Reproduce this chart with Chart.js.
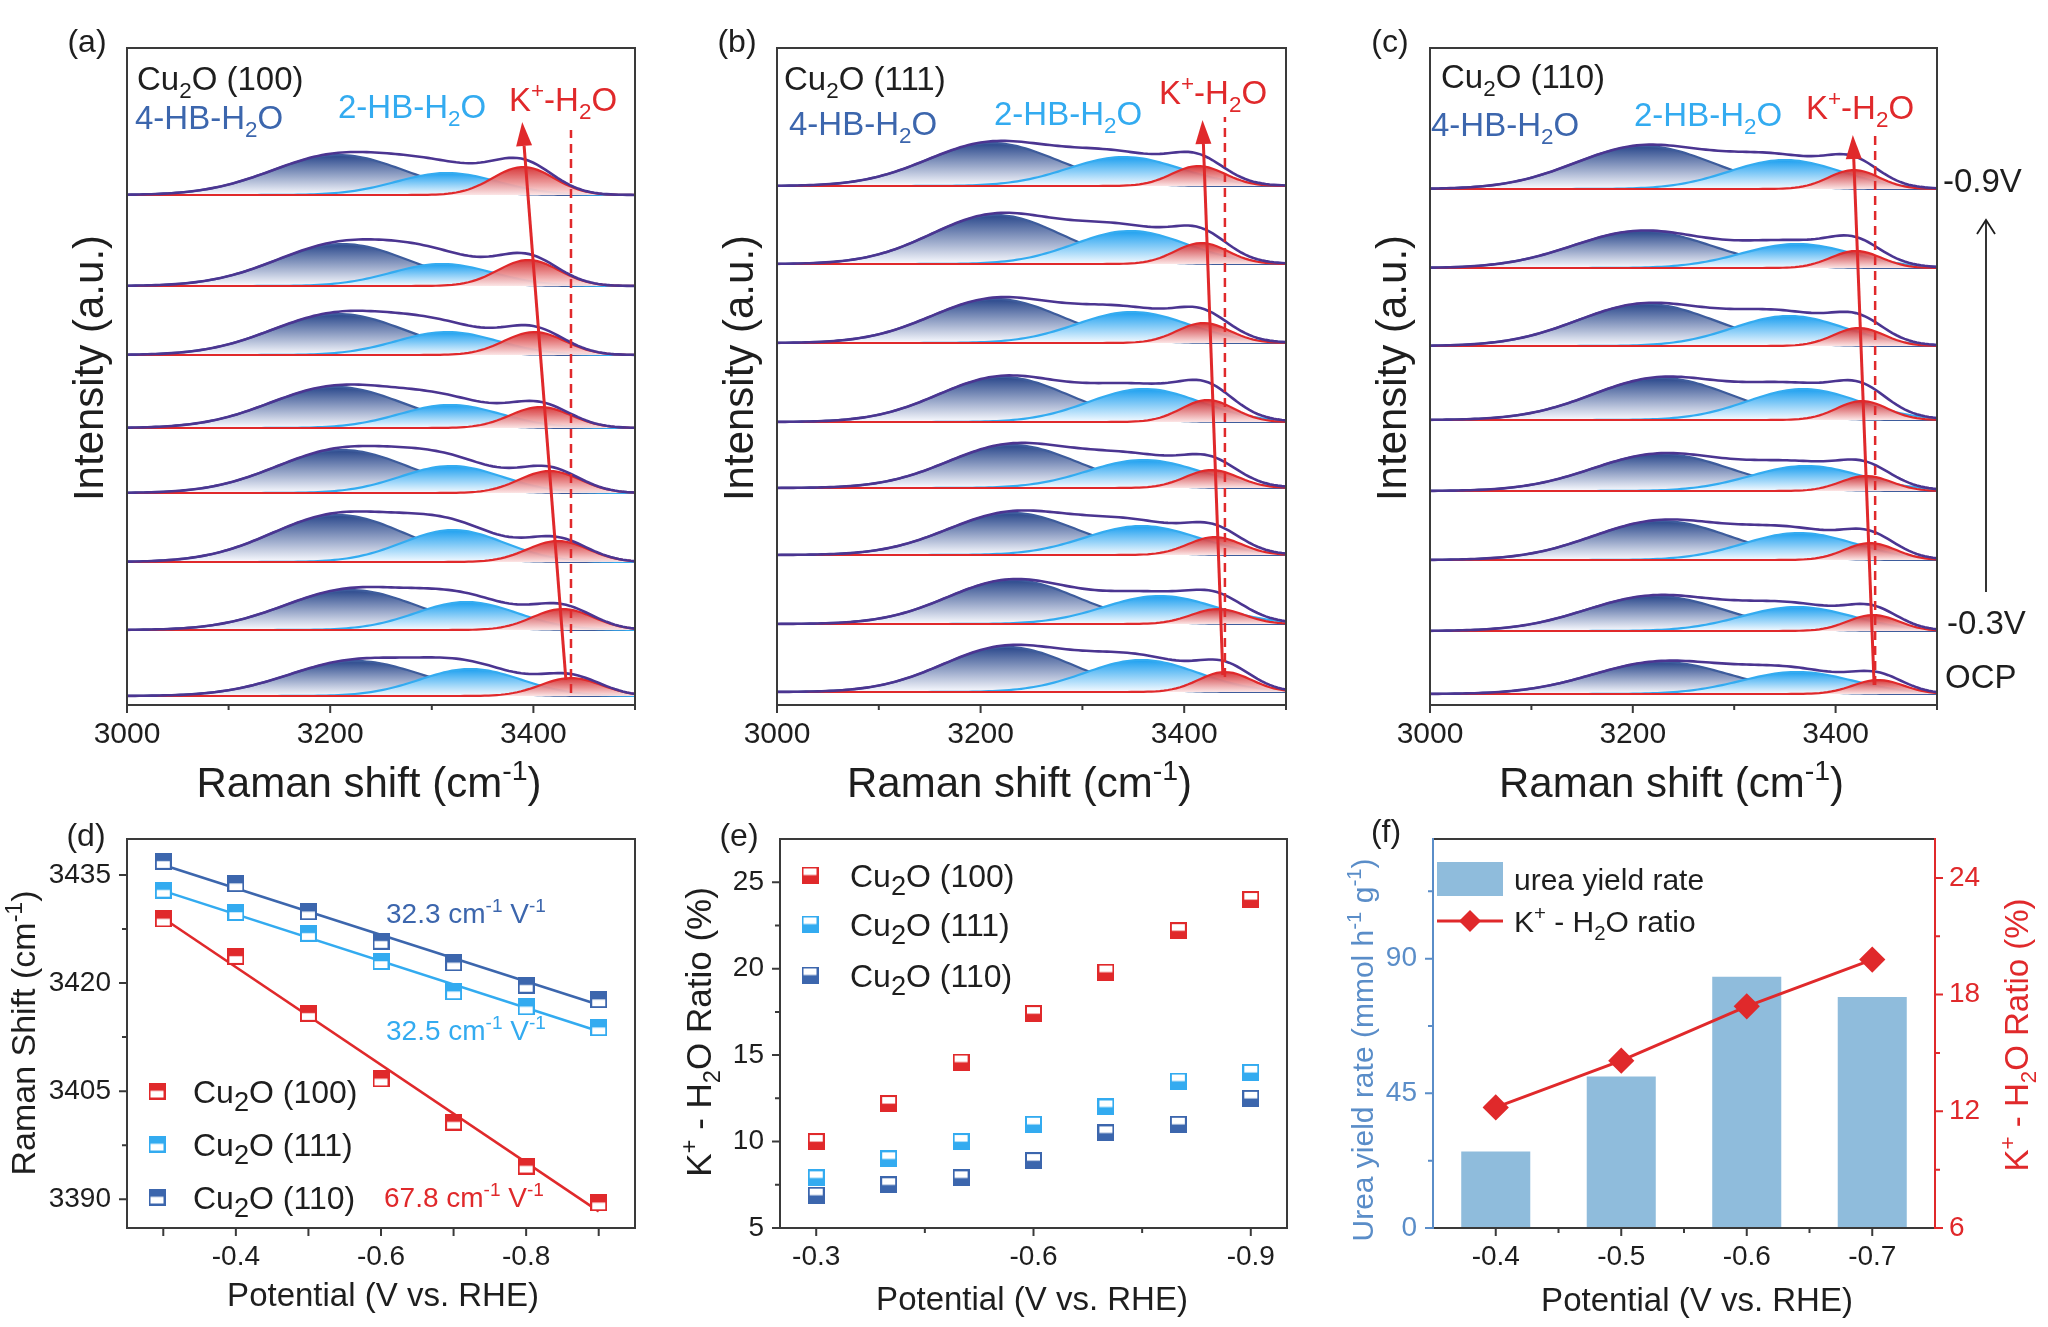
<!DOCTYPE html>
<html>
<head>
<meta charset="utf-8">
<script src="https://cdn.jsdelivr.net/npm/chart.js@4.4.1/dist/chart.umd.min.js"></script>
<style>
  html, body { margin: 0; padding: 0; background: #fff; }
  #wrap { position: relative; width: 2048px; height: 1327px; overflow: hidden; background: #fff; }
  #wrap canvas { position: absolute; left: 0; top: 0; }
</style>
</head>
<body>
<div id="wrap">
  <canvas id="ca" width="2048" height="1327"></canvas>
  <canvas id="cb" width="2048" height="1327"></canvas>
  <canvas id="cc" width="2048" height="1327"></canvas>
  <canvas id="cd" width="2048" height="1327"></canvas>
  <canvas id="ce" width="2048" height="1327"></canvas>
  <canvas id="cf" width="2048" height="1327"></canvas>
</div>
<script>
// ---------- data: (a)-(c) fitted Raman components, top spectrum (-0.9 V) first, OCP last ----------
const ramanTicks = [3000, 3200, 3400];
const ramanMinor = [3100, 3300, 3500];

const a_offset = [510, 419, 350, 277, 212, 143, 75, 9];
const a_hb4Pos = [3208, 3212, 3208, 3206, 3212, 3208, 3220, 3225];
const a_hb4Amp = [40, 42, 41, 41, 43, 47, 40, 35];
const a_hb2Pos = [3315, 3310, 3315, 3318, 3319, 3321, 3334, 3338];
const a_hb2Amp = [22, 22, 23, 23, 27, 32, 28, 27];
const a_kPos = [3390, 3395, 3401, 3407, 3416, 3424, 3429, 3437];
const a_kAmp = [28, 26, 23, 21, 22, 21, 21, 18];
const a_width = [66, 50, 30];
const a_arrow = [3432, 25, 3389, 583];
const a_dash = [3437, 12, 575];

const b_offset = [519, 441, 362, 283, 217, 150, 81, 13];
const b_hb4Pos = [3211, 3215, 3215, 3222, 3231, 3231, 3231, 3226];
const b_hb4Amp = [43, 49, 44, 45, 43, 42, 44, 45];
const b_hb2Pos = [3341, 3347, 3349, 3361, 3360, 3358, 3376, 3358];
const b_hb2Amp = [29, 33, 31, 33, 28, 29, 28, 32];
const b_kPos = [3414, 3417, 3419, 3423, 3427, 3430, 3433, 3440];
const b_kAmp = [20, 21, 20, 22, 18, 18, 15, 20];
const b_width = [64, 55, 26];
const b_arrow = [3438, 30, 3418, 585];
const b_dash = [3440, 28, 588];

const c_offset = [516, 437, 359, 285, 214, 145, 74, 11];
const c_hb4Pos = [3211, 3209, 3213, 3228, 3228, 3228, 3222, 3228];
const c_hb4Amp = [43, 37, 42, 42, 37, 39, 35, 32];
const c_hb2Pos = [3350, 3362, 3354, 3368, 3371, 3364, 3362, 3362];
const c_hb2Amp = [29, 24, 30, 31, 25, 27, 24, 22];
const c_kPos = [3418, 3420, 3423, 3426, 3430, 3434, 3437, 3442];
const c_kAmp = [19, 17, 18, 19, 15, 17, 16, 14];
const c_width = [68, 55, 25];
const c_arrow = [3438, 20, 3417, 570];
const c_dash = [3439, 20, 575];

// ---------- data: (d) Raman shift vs potential ----------
const potential = [-0.3, -0.4, -0.5, -0.6, -0.7, -0.8, -0.9];
const shift100 = [3428.9, 3423.7, 3415.8, 3406.7, 3400.7, 3394.6, 3389.5];
const shift111 = [3432.9, 3429.8, 3426.9, 3423.0, 3418.8, 3416.7, 3413.8];
const shift110 = [3436.9, 3433.8, 3429.9, 3425.8, 3422.8, 3419.7, 3417.7];
const fitEnds = [-0.3, -0.9];
const fit100 = [3429.0, 3388.3];
const fit111 = [3432.8, 3413.3];
const fit110 = [3436.4, 3417.0];
const shiftTicks = [3390, 3405, 3420, 3435];
const shiftMinor = [3397.5, 3412.5, 3427.5];
const potTicksD = [-0.4, -0.6, -0.8];
const potMinorD = [-0.3, -0.5, -0.7, -0.9];

// ---------- data: (e) K+-H2O ratio ----------
const ratio100 = [10.0, 12.2, 14.6, 17.4, 19.8, 22.2, 24.0];
const ratio111 = [7.9, 9.0, 10.0, 11.0, 12.0, 13.5, 14.0];
const ratio110 = [6.9, 7.5, 7.9, 8.9, 10.5, 11.0, 12.5];
const ratioTicks = [5, 10, 15, 20, 25];
const ratioMinor = [7.5, 12.5, 17.5, 22.5];
const potTicksE = [-0.3, -0.6, -0.9];
const potMinorE = [-0.45, -0.75];

// ---------- data: (f) urea yield + ratio ----------
const fPot = ['-0.4', '-0.5', '-0.6', '-0.7'];
const ureaRate = [25.6, 50.6, 84.0, 77.2];
const kRatio = [12.2, 14.6, 17.4, 19.8];
const ureaTicks = [0, 45, 90];
const ureaMinor = [22.5, 67.5, 112.5];
const kTicks = [6, 12, 18, 24];
const kMinor = [9, 15, 21];

// ---------- style ----------
const W = 2048, H = 1327;
const FONT = "'Liberation Sans', Arial, sans-serif";
const RED = '#e0292b', LBLUE = '#33abf0', DBLUE = '#3c66ad', HB4 = '#3d5c9c';
const PURPLE = '#4b3591', BAR = '#8fbcdc', AXBLUE = '#5a8dc8', INK = '#1e1e1e', FRAME = '#3a3a3a';
const BOTTOM_ROW = { t: 839, b: 1228 };

Chart.defaults.font.family = FONT;
Chart.defaults.color = INK;
Chart.defaults.animation = false;
Chart.defaults.events = [];
Chart.defaults.plugins.legend.display = false;
Chart.defaults.plugins.tooltip.enabled = false;

// ---------- helpers ----------
function parseRich(str) {
  const parts = [], re = /([_^])\{([^}]*)\}|([^_^]+)/g;
  let m;
  while ((m = re.exec(str))) {
    if (m[3]) parts.push([m[3], 0]);
    else parts.push([m[2], m[1] === '_' ? 1 : -1]);
  }
  return parts;
}

function richText(c, str, x, y, size, color, align, rot, subScale) {
  const parts = parseRich(str);
  const ss = subScale || 0.68;
  c.save();
  c.translate(x, y);
  if (rot) c.rotate(rot);
  c.fillStyle = color;
  c.textBaseline = 'alphabetic';
  const fontFor = k => (k ? size * ss : size) + 'px ' + FONT;
  let w = 0;
  parts.forEach(p => { c.font = fontFor(p[1]); w += c.measureText(p[0]).width; });
  let cx = align === 'center' ? -w / 2 : align === 'right' ? -w : 0;
  const base = size * 0.36;
  parts.forEach(p => {
    c.font = fontFor(p[1]);
    const dy = p[1] === 1 ? size * 0.26 : p[1] === -1 ? -size * 0.4 : 0;
    c.fillText(p[0], cx, base + dy);
    cx += c.measureText(p[0]).width;
  });
  c.restore();
}

function tickMarks(ch, id, vals, len, color) {
  const s = ch.scales[id], a = ch.chartArea, c = ch.ctx;
  c.save();
  c.strokeStyle = color;
  c.lineWidth = 2;
  c.beginPath();
  vals.forEach(v => {
    const p = s.getPixelForValue(v);
    if (s.position === 'bottom') { c.moveTo(p, a.bottom); c.lineTo(p, a.bottom + len); }
    else if (s.position === 'left') { c.moveTo(a.left - len, p); c.lineTo(a.left, p); }
    else { c.moveTo(a.right, p); c.lineTo(a.right + len, p); }
  });
  c.stroke();
  c.restore();
}

function frame(ch, left, right) {
  const a = ch.chartArea, c = ch.ctx;
  c.save();
  c.lineWidth = 2;
  c.lineCap = 'square';
  const seg = (col, x1, y1, x2, y2) => { c.strokeStyle = col; c.beginPath(); c.moveTo(x1, y1); c.lineTo(x2, y2); c.stroke(); };
  seg(FRAME, a.left, a.top, a.right, a.top);
  seg(FRAME, a.left, a.bottom, a.right, a.bottom);
  seg(left || FRAME, a.left, a.top, a.left, a.bottom);
  seg(right || FRAME, a.right, a.top, a.right, a.bottom);
  c.restore();
}

function setTicks(vals) { return s => { s.ticks = vals.map(v => ({ value: v })); }; }
function fixSize(size) { return s => { if (s.isHorizontal()) s.height = size; else s.width = size; }; }
function padFor(l, t, r, leftW, rightW) { return { left: l - (leftW || 0), top: t, right: W - r - (rightW || 0), bottom: 0 }; }

function linAxis(pos, min, max, ticks, fmt, size, fontSize, pad, color, extra) {
  return Object.assign({
    type: 'linear', position: pos, min: min, max: max,
    grid: { display: false, drawTicks: false }, border: { display: false },
    afterBuildTicks: setTicks(ticks),
    afterFit: fixSize(size),
    ticks: { callback: fmt, font: { size: fontSize }, padding: pad, color: color || INK, autoSkip: false, maxRotation: 0 }
  }, extra || {});
}

// ---------- (a)-(c) ----------
const shiftGrid = [];
for (let x = 3000; x <= 3500; x += 4) shiftGrid.push(x);

function gaussPts(pos, amp, w, off) {
  return shiftGrid.map(x => ({ x: x, y: off + amp * Math.exp(-((x - pos) * (x - pos)) / (2 * w * w)) }));
}

function fillGrad(off, amp, top, bottom) {
  return ctx => {
    const ch = ctx.chart, y = ch.scales.y;
    if (!ch.chartArea || !y) return top;
    const g = ch.ctx.createLinearGradient(0, y.getPixelForValue(off + amp), 0, y.getPixelForValue(off));
    g.addColorStop(0, top);
    g.addColorStop(1, bottom);
    return g;
  };
}

function peakSet(pts, color, order, off, amp, top, bottom) {
  return { data: pts, borderColor: color, borderWidth: 2.2, pointRadius: 0, order: order,
    fill: { value: off }, backgroundColor: fillGrad(off, amp, top, bottom) };
}

function redArrow(ch, arr, dash) {
  const x = ch.scales.x, y = ch.scales.y, c = ch.ctx;
  const x1 = x.getPixelForValue(arr[0]), y1 = y.getPixelForValue(arr[1]);
  const x2 = x.getPixelForValue(arr[2]), y2 = y.getPixelForValue(arr[3]);
  c.save();
  c.strokeStyle = RED;
  c.lineWidth = 2.5;
  c.setLineDash([9, 6]);
  const dx = x.getPixelForValue(dash[0]);
  c.beginPath(); c.moveTo(dx, y.getPixelForValue(dash[1])); c.lineTo(dx, y.getPixelForValue(dash[2])); c.stroke();
  c.setLineDash([]);
  const ang = Math.atan2(y2 - y1, x2 - x1), L = 24, Wd = 8;
  const bx = x2 - L * Math.cos(ang), by = y2 - L * Math.sin(ang);
  c.lineWidth = 3;
  c.beginPath(); c.moveTo(x1, y1); c.lineTo(bx, by); c.stroke();
  c.fillStyle = RED;
  c.beginPath();
  c.moveTo(x2, y2);
  c.lineTo(bx + Wd * Math.sin(ang), by - Wd * Math.cos(ang));
  c.lineTo(bx - Wd * Math.sin(ang), by + Wd * Math.cos(ang));
  c.closePath(); c.fill();
  c.restore();
}

function ramanChart(id, p, area, deco) {
  const ds = [];
  p.off.forEach((off, i) => {
    const g4 = gaussPts(p.hb4Pos[i], p.hb4Amp[i], p.width[0], off);
    const g2 = gaussPts(p.hb2Pos[i], p.hb2Amp[i], p.width[1], off);
    const gk = gaussPts(p.kPos[i], p.kAmp[i], p.width[2], off);
    const env = g4.map((pt, j) => ({ x: pt.x, y: pt.y + g2[j].y + gk[j].y - 2 * off }));
    ds.push({ data: env, borderColor: PURPLE, borderWidth: 2.6, pointRadius: 0, fill: false, order: 0 });
    ds.push(peakSet(gk, RED, 1, off, p.kAmp[i], 'rgba(212,40,42,0.92)', 'rgba(252,228,228,0.95)'));
    ds.push(peakSet(g2, LBLUE, 2, off, p.hb2Amp[i], 'rgba(30,160,240,1)', 'rgba(246,251,255,1)'));
    ds.push(peakSet(g4, HB4, 3, off, p.hb4Amp[i], 'rgba(42,72,140,1)', 'rgba(250,251,255,1)'));
  });
  return new Chart(document.getElementById(id), {
    type: 'line',
    data: { datasets: ds },
    options: {
      responsive: false,
      layout: { padding: padFor(area.l, area.t, area.r) },
      scales: {
        x: linAxis('bottom', 3000, 3500, ramanTicks, v => String(v), H - area.b, 30, 12),
        y: { type: 'linear', display: false, min: 0, max: area.b - area.t }
      }
    },
    plugins: [{
      id: 'deco_' + id,
      afterDraw(ch) {
        const c = ch.ctx, a = ch.chartArea;
        redArrow(ch, p.arrow, p.dash);
        frame(ch);
        tickMarks(ch, 'x', ramanTicks, 8, FRAME);
        tickMarks(ch, 'x', ramanMinor, 5, FRAME);
        richText(c, deco.tag, a.left - 40, 40, 32, INK, 'center');
        richText(c, deco.name, deco.nameX, deco.nameY, 33, INK, 'left');
        richText(c, '4-HB-H_{2}O', deco.hb4X, deco.hb4Y, 33, DBLUE, 'left');
        richText(c, '2-HB-H_{2}O', deco.hb2X, deco.hb2Y, 33, LBLUE, 'left');
        richText(c, 'K^{+}-H_{2}O', deco.kX, deco.kY, 33, RED, 'left');
        richText(c, 'Raman shift (cm^{-1})', (a.left + a.right) / 2 - 12, 782, 42, INK, 'center');
        richText(c, 'Intensity (a.u.)', a.left - 39, 368, 42, INK, 'center', -Math.PI / 2);
        if (deco.extra) deco.extra(ch);
      }
    }]
  });
}

ramanChart('ca', { off: a_offset, hb4Pos: a_hb4Pos, hb4Amp: a_hb4Amp, hb2Pos: a_hb2Pos, hb2Amp: a_hb2Amp,
  kPos: a_kPos, kAmp: a_kAmp, width: a_width, arrow: a_arrow, dash: a_dash },
  { l: 127, t: 48, r: 635, b: 705 },
  { tag: '(a)', name: 'Cu_{2}O (100)', nameX: 137, nameY: 78, hb4X: 135, hb4Y: 117, hb2X: 338, hb2Y: 106, kX: 509, kY: 99 });

ramanChart('cb', { off: b_offset, hb4Pos: b_hb4Pos, hb4Amp: b_hb4Amp, hb2Pos: b_hb2Pos, hb2Amp: b_hb2Amp,
  kPos: b_kPos, kAmp: b_kAmp, width: b_width, arrow: b_arrow, dash: b_dash },
  { l: 777, t: 48, r: 1286, b: 705 },
  { tag: '(b)', name: 'Cu_{2}O (111)', nameX: 784, nameY: 78, hb4X: 789, hb4Y: 123, hb2X: 994, hb2Y: 113, kX: 1159, kY: 92 });

ramanChart('cc', { off: c_offset, hb4Pos: c_hb4Pos, hb4Amp: c_hb4Amp, hb2Pos: c_hb2Pos, hb2Amp: c_hb2Amp,
  kPos: c_kPos, kAmp: c_kAmp, width: c_width, arrow: c_arrow, dash: c_dash },
  { l: 1430, t: 48, r: 1937, b: 705 },
  { tag: '(c)', name: 'Cu_{2}O (110)', nameX: 1441, nameY: 76, hb4X: 1431, hb4Y: 124, hb2X: 1634, hb2Y: 114, kX: 1806, kY: 107,
    extra(ch) {
      const c = ch.ctx;
      richText(c, '-0.9V', 1943, 180, 33, INK, 'left');
      richText(c, '-0.3V', 1947, 622, 33, INK, 'left');
      richText(c, 'OCP', 1945, 676, 33, INK, 'left');
      c.save();
      c.strokeStyle = INK; c.lineWidth = 1.8;
      c.beginPath(); c.moveTo(1986, 592); c.lineTo(1986, 220); c.stroke();
      c.beginPath(); c.moveTo(1977, 234); c.lineTo(1986, 220); c.lineTo(1995, 234); c.stroke();
      c.restore();
    } });

// ---------- markers ----------
function halfSquare(color, topFilled) {
  const s = 17, cv = document.createElement('canvas');
  cv.width = s; cv.height = s;
  const g = cv.getContext('2d');
  g.fillStyle = '#fff'; g.fillRect(0, 0, s, s);
  g.fillStyle = color;
  g.fillRect(0, topFilled ? 0 : s / 2, s, s / 2);
  g.strokeStyle = color; g.lineWidth = 2; g.strokeRect(1, 1, s - 2, s - 2);
  g.fillStyle = 'rgba(255,255,255,0.9)';
  g.fillRect(2, topFilled ? s / 2 : s / 2 - 1.5, s - 4, 1.2);
  return cv;
}

function markerSet(xs, ys, img) {
  return { data: xs.map((x, i) => ({ x: x, y: ys[i] })), pointStyle: img, pointRadius: 8, showLine: false };
}

// ---------- (d) ----------
const mD = [halfSquare(RED, true), halfSquare(LBLUE, true), halfSquare(DBLUE, true)];
function fitSet(vals, color) {
  return { data: fitEnds.map((x, i) => ({ x: x, y: vals[i] })), showLine: true, borderColor: color, borderWidth: 2.6, pointRadius: 0 };
}
new Chart(document.getElementById('cd'), {
  type: 'scatter',
  data: { datasets: [
    markerSet(potential, shift100, mD[0]), markerSet(potential, shift111, mD[1]), markerSet(potential, shift110, mD[2]),
    fitSet(fit100, RED), fitSet(fit111, LBLUE), fitSet(fit110, DBLUE)
  ] },
  options: {
    responsive: false,
    layout: { padding: padFor(127, BOTTOM_ROW.t, 635, 90) },
    scales: {
      x: linAxis('bottom', -0.95, -0.25, potTicksD, v => v.toFixed(1), H - BOTTOM_ROW.b, 28, 12, INK, { reverse: true }),
      y: linAxis('left', 3386, 3440, shiftTicks, v => String(v), 90, 28, 16)
    }
  },
  plugins: [{
    id: 'deco_d',
    afterDraw(ch) {
      const c = ch.ctx;
      frame(ch);
      tickMarks(ch, 'x', potTicksD, 8, FRAME); tickMarks(ch, 'x', potMinorD, 8, FRAME);
      tickMarks(ch, 'y', shiftTicks, 8, FRAME); tickMarks(ch, 'y', shiftMinor, 5, FRAME);
      richText(c, '(d)', 86, 834, 32, INK, 'center');
      richText(c, 'Potential (V vs. RHE)', 383, 1294, 33, INK, 'center');
      richText(c, 'Raman Shift (cm^{-1})', 23, 1033, 34, INK, 'center', -Math.PI / 2);
      richText(c, '32.3 cm^{-1} V^{-1}', 386, 913, 28, DBLUE, 'left');
      richText(c, '32.5 cm^{-1} V^{-1}', 386, 1030, 28, LBLUE, 'left');
      richText(c, '67.8 cm^{-1} V^{-1}', 384, 1197, 28, RED, 'left');
      ['Cu_{2}O (100)', 'Cu_{2}O (111)', 'Cu_{2}O (110)'].forEach((t, i) => {
        const yy = [1091, 1144, 1197][i];
        c.drawImage(mD[i], 157 - 8.5, yy - 8.5);
        richText(c, t, 193, yy, 32, INK, 'left', 0, 0.85);
      });
    }
  }]
});

// ---------- (e) ----------
const mE = [halfSquare(RED, false), halfSquare(LBLUE, false), halfSquare(DBLUE, false)];
new Chart(document.getElementById('ce'), {
  type: 'scatter',
  data: { datasets: [
    markerSet(potential, ratio100, mE[0]), markerSet(potential, ratio111, mE[1]), markerSet(potential, ratio110, mE[2])
  ] },
  options: {
    responsive: false,
    layout: { padding: padFor(780, BOTTOM_ROW.t, 1287, 70) },
    scales: {
      x: linAxis('bottom', -0.95, -0.25, potTicksE, v => v.toFixed(1), H - BOTTOM_ROW.b, 28, 12, INK, { reverse: true }),
      y: linAxis('left', 5, 27.5, ratioTicks, v => String(v), 70, 28, 16)
    }
  },
  plugins: [{
    id: 'deco_e',
    afterDraw(ch) {
      const c = ch.ctx;
      frame(ch);
      tickMarks(ch, 'x', potTicksE, 8, FRAME); tickMarks(ch, 'x', potMinorE, 5, FRAME);
      tickMarks(ch, 'y', ratioTicks, 8, FRAME); tickMarks(ch, 'y', ratioMinor, 5, FRAME);
      richText(c, '(e)', 739, 834, 32, INK, 'center');
      richText(c, 'Potential (V vs. RHE)', 1032, 1298, 33, INK, 'center');
      richText(c, 'K^{+} - H_{2}O Ratio (%)', 698, 1032, 35, INK, 'center', -Math.PI / 2);
      ['Cu_{2}O (100)', 'Cu_{2}O (111)', 'Cu_{2}O (110)'].forEach((t, i) => {
        const yy = [875, 924, 975][i];
        c.drawImage(mE[i], 810 - 8.5, yy - 8.5);
        richText(c, t, 850, yy, 32, INK, 'left', 0, 0.85);
      });
    }
  }]
});

// ---------- (f) ----------
new Chart(document.getElementById('cf'), {
  type: 'bar',
  data: {
    labels: fPot,
    datasets: [
      { type: 'line', data: kRatio, yAxisID: 'y1', borderColor: RED, backgroundColor: RED, borderWidth: 3,
        pointStyle: 'rectRot', pointRadius: 11, order: 0 },
      { type: 'bar', data: ureaRate, yAxisID: 'y', backgroundColor: BAR, barPercentage: 0.55, categoryPercentage: 1, order: 1 }
    ]
  },
  options: {
    responsive: false,
    layout: { padding: padFor(1433, BOTTOM_ROW.t, 1935, 70, 70) },
    scales: {
      x: { type: 'category', position: 'bottom', offset: true, grid: { display: false, drawTicks: false }, border: { display: false },
        afterFit: fixSize(H - BOTTOM_ROW.b), ticks: { font: { size: 28 }, padding: 12, color: INK } },
      y: linAxis('left', 0, 130, ureaTicks, v => String(v), 70, 28, 16, AXBLUE),
      y1: linAxis('right', 6, 26, kTicks, v => String(v), 70, 28, 14, RED)
    }
  },
  plugins: [{
    id: 'deco_f',
    afterDraw(ch) {
      const c = ch.ctx;
      frame(ch, AXBLUE, RED);
      tickMarks(ch, 'x', [0, 1, 2, 3], 8, FRAME); tickMarks(ch, 'x', [0.5, 1.5, 2.5], 5, FRAME);
      tickMarks(ch, 'y', ureaTicks, 8, AXBLUE); tickMarks(ch, 'y', ureaMinor, 5, AXBLUE);
      tickMarks(ch, 'y1', kTicks, 8, RED); tickMarks(ch, 'y1', kMinor, 5, RED);
      richText(c, '(f)', 1386, 830, 32, INK, 'center');
      richText(c, 'Potential (V vs. RHE)', 1697, 1299, 33, INK, 'center');
      richText(c, 'Urea yield rate (mmol h^{-1} g^{-1})', 1362, 1050, 30, AXBLUE, 'center', -Math.PI / 2);
      richText(c, 'K^{+} - H_{2}O Ratio (%)', 2016, 1035, 33, RED, 'center', -Math.PI / 2);
      // legend
      c.save();
      c.fillStyle = BAR; c.fillRect(1437, 862, 66, 34);
      c.strokeStyle = RED; c.lineWidth = 3;
      c.beginPath(); c.moveTo(1437, 921); c.lineTo(1503, 921); c.stroke();
      c.fillStyle = RED;
      c.beginPath(); c.moveTo(1470, 910); c.lineTo(1481, 921); c.lineTo(1470, 932); c.lineTo(1459, 921); c.closePath(); c.fill();
      c.restore();
      richText(c, 'urea yield rate', 1514, 879, 30, INK, 'left');
      richText(c, 'K^{+} - H_{2}O ratio', 1514, 921, 30, INK, 'left');
    }
  }]
});
</script>
</body>
</html>
